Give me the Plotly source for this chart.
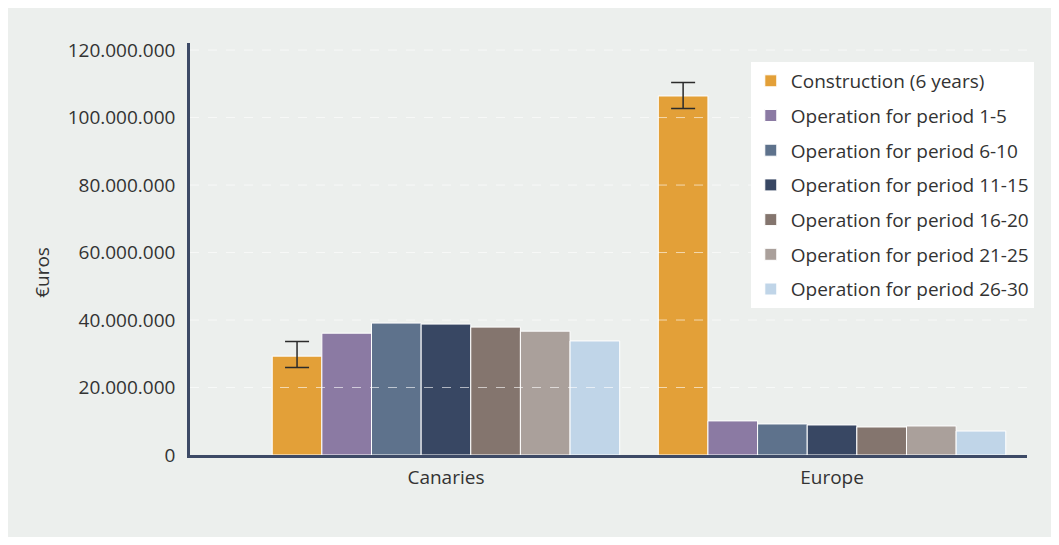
import plotly.graph_objects as go

regions = ["Canaries", "Europe"]

series_names = [
    "Construction (6 years)",
    "Operation for period 1-5",
    "Operation for period 6-10",
    "Operation for period 11-15",
    "Operation for period 16-20",
    "Operation for period 21-25",
    "Operation for period 26-30",
]

construction = [29300000, 106400000]
construction_err_plus = [4300000, 4000000]
construction_err_minus = [3400000, 3700000]
op_1_5 = [36100000, 10100000]
op_6_10 = [39100000, 9200000]
op_11_15 = [38800000, 8900000]
op_16_20 = [37900000, 8300000]
op_21_25 = [36700000, 8600000]
op_26_30 = [33800000, 7100000]

tick_vals = [0, 20000000, 40000000, 60000000, 80000000, 100000000, 120000000]

colors = ["#E3A038", "#8B7AA3", "#5E728C", "#384763", "#84756E", "#AAA09B", "#C0D5E8"]
values = [construction, op_1_5, op_6_10, op_11_15, op_16_20, op_21_25, op_26_30]

txt = dict(family="Open Sans", size=19, color="#333333")

fig = go.Figure()
for i, (name, vals) in enumerate(zip(series_names, values)):
    err = None
    if i == 0:
        err = dict(type="data", symmetric=False,
                   array=construction_err_plus, arrayminus=construction_err_minus,
                   color="#2b2b2b", thickness=1.5, width=12)
    fig.add_trace(go.Bar(
        x=regions, y=vals, name=name, legendgroup=name,
        marker=dict(color=colors[i], line=dict(color="white", width=1)),
        error_y=err,
    ))

# white dashed gridlines drawn over the bars
for v in tick_vals[1:]:
    fig.add_shape(type="line", xref="paper", x0=0, x1=1, yref="y", y0=v, y1=v,
                  line=dict(color="rgba(255,255,255,0.6)", width=1, dash="dash"),
                  layer="above")

fig.add_annotation(text="€uros", xref="paper", yref="paper", x=-0.195, y=0.444,
                   textangle=-90, showarrow=False, font=txt)

fig.update_layout(
    width=1046, height=529,
    margin=dict(l=182, r=27, t=35, b=82),
    paper_bgcolor="#ECEFED", plot_bgcolor="#ECEFED",
    font=txt,
    separators=",.",
    barmode="group", bargap=0.1, bargroupgap=0,
    showlegend=True,
    legend=dict(x=0.670, y=0.954, xanchor="left", yanchor="top",
                bgcolor="white", traceorder="grouped", tracegroupgap=7,
                font=txt, itemwidth=30),
    xaxis=dict(range=[-0.663, 1.505], showline=True, linecolor="#3D4A66",
               linewidth=2.5, ticks="", showgrid=False, tickfont=txt,
               ticklabelstandoff=3),
    yaxis=dict(range=[0, 122100000], tickvals=tick_vals, tickformat=",d",
               showline=True, linecolor="#3D4A66", linewidth=2.5, ticks="",
               showgrid=False, zeroline=False, ticklabelstandoff=8,
               tickfont=txt),
)

fig.write_html("out.html")
